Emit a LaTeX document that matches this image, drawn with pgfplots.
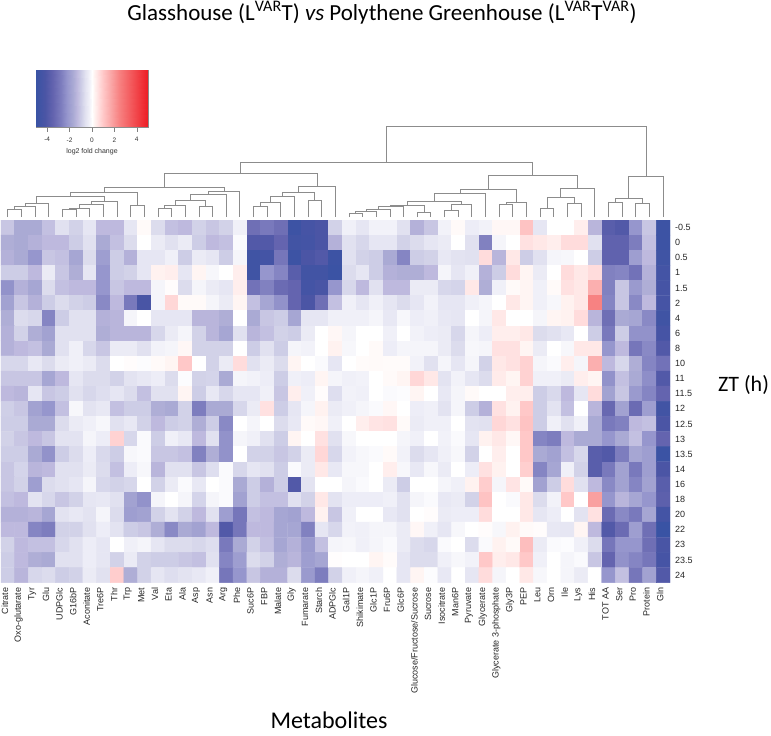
\documentclass[border=0pt]{standalone}
\usepackage{pgfplots}
\pgfplotsset{compat=1.18}
\usepackage{fontspec}
\setmainfont{Liberation Sans}
\newfontfamily\calib{Carlito}
\pgfplotsset{colormap={hm}{
rgb255(0pt)=(57,83,164);
rgb255(80pt)=(75,85,165);
rgb255(150pt)=(100,100,175);
rgb255(220pt)=(125,125,190);
rgb255(280pt)=(150,150,205);
rgb255(330pt)=(170,170,212);
rgb255(370pt)=(190,185,222);
rgb255(400pt)=(205,205,230);
rgb255(440pt)=(225,225,240);
rgb255(470pt)=(240,240,248);
rgb255(500pt)=(255,255,255);
rgb255(520pt)=(255,245,243);
rgb255(550pt)=(255,225,225);
rgb255(600pt)=(255,200,200);
rgb255(660pt)=(250,170,170);
rgb255(740pt)=(247,130,130);
rgb255(1000pt)=(237,28,36)}}
\newcommand{\seg}[5]{\addplot[dend] coordinates {(#1,#2) (#1,#5) (#3,#5) (#3,#4)};}
\begin{document}
\begin{tikzpicture}[x=1pt,y=1pt]
\useasboundingbox (0,0) rectangle (771,736);
% overlay axis in picture pixels: dendrogram and big texts
\begin{axis}[at={(0pt,0pt)},anchor=south west,scale only axis,width=771pt,height=736pt,
  xmin=0,xmax=771,ymin=0,ymax=736,y dir=reverse,hide axis,clip=false,
  dend/.style={draw=black!45,line width=0.7pt,no markers,forget plot}]
\seg{7.8}{217}{21.5}{217}{209.3}
\seg{14.6}{209.3}{35.1}{217}{206.7}
\seg{24.9}{206.7}{48.8}{217}{203.3}
\seg{62.4}{217}{76.1}{217}{209}
\seg{69.2}{209}{89.7}{217}{208}
\seg{79.5}{208}{103.3}{217}{204.3}
\seg{91.4}{204.3}{117}{217}{201.7}
\seg{36.8}{203.3}{104.2}{201.7}{196.7}
\seg{130.6}{217}{144.3}{217}{205.3}
\seg{70.5}{196.7}{137.4}{205.3}{192}
\seg{157.9}{217}{171.6}{217}{208.7}
\seg{164.7}{208.7}{185.2}{217}{205.3}
\seg{198.9}{217}{212.5}{217}{206.3}
\seg{175}{205.3}{205.7}{206.3}{200}
\seg{190.3}{200}{226.2}{217}{194}
\seg{208.3}{194}{239.8}{217}{191.3}
\seg{104}{192}{224}{191.3}{187.7}
\seg{253.5}{217}{267.1}{217}{206}
\seg{260.3}{206}{280.8}{217}{202.7}
\seg{270.5}{202.7}{294.4}{217}{196}
\seg{308}{217}{321.7}{217}{200}
\seg{282.5}{196}{314.8}{200}{192}
\seg{298.7}{192}{335.3}{217}{186.3}
\seg{164}{187.7}{317}{186.3}{173.7}
\seg{349}{217}{362.6}{217}{213}
\seg{355.8}{213}{376.3}{217}{211.7}
\seg{366}{211.7}{389.9}{217}{209.3}
\seg{378}{209.3}{403.6}{217}{206.7}
\seg{417.2}{217}{430.8}{217}{212.3}
\seg{390.8}{206.7}{424}{212.3}{205.3}
\seg{444.5}{217}{458.1}{217}{210.7}
\seg{451.3}{210.7}{471.8}{217}{204.3}
\seg{407.4}{205.3}{461.5}{204.3}{201.3}
\seg{434.5}{201.3}{485.4}{217}{193}
\seg{499.1}{217}{512.7}{217}{204.7}
\seg{505.9}{204.7}{526.4}{217}{202.3}
\seg{460}{193}{516.2}{202.3}{189.3}
\seg{540}{217}{553.7}{217}{208.3}
\seg{567.3}{217}{580.9}{217}{203.3}
\seg{546.9}{208.3}{574.1}{203.3}{197.3}
\seg{560.5}{197.3}{594.6}{217}{188}
\seg{488}{189.3}{577.5}{188}{175.3}
\seg{240.5}{173.7}{532.8}{175.3}{162.7}
\seg{608.2}{217}{621.9}{217}{202}
\seg{635.5}{217}{649.2}{217}{203.3}
\seg{615}{202}{642.4}{203.3}{198.3}
\seg{628.7}{198.3}{663}{217}{176}
\seg{386.7}{162.7}{645.9}{176}{126}
\node[font=\calib\fontsize{23}{25}\selectfont] at (axis cs:382,13) {Glasshouse (L\textsuperscript{VAR}T) \textit{vs} Polythene Greenhouse (L\textsuperscript{VAR}T\textsuperscript{VAR})};
\node[font=\calib\fontsize{24}{26}\selectfont] at (axis cs:329,720) {Metabolites};
\node[font=\calib\fontsize{22}{24}\selectfont] at (axis cs:743.5,385) {ZT (h)};
\end{axis}
% colour key
\begin{axis}[at={(36pt,609pt)},anchor=south west,scale only axis,width=112pt,height=57pt,
  xmin=-5,xmax=5,ymin=0,ymax=1,ytick=\empty,xtick={-4,-2,0,2,4},
  xtick pos=bottom,axis line style={draw=black!45,line width=0.4pt},
  tick style={draw=black!50,line width=0.4pt},major tick length=5pt,tick align=outside,
  /pgf/number format/assume math mode=true,
  tick label style={font=\fontsize{6.5}{7}\selectfont,text=black!80,yshift=-2pt},
  xlabel={log2 fold change},xlabel style={font=\fontsize{7}{8}\selectfont,text=black!80,yshift=1pt},
  colormap name=hm,point meta min=-5,point meta max=5]
\addplot[surf,shader=interp,mesh/rows=2,point meta=x,forget plot] coordinates {
(-5,0)(-4.2,0)(-3.5,0)(-2.8,0)(-2.2,0)(-1.7,0)(-1.3,0)(-1,0)(-0.6,0)(-0.3,0)(0,0)(0.2,0)(0.5,0)(1,0)(1.6,0)(2.4,0)(3.2,0)(4,0)(5,0)

(-5,1)(-4.2,1)(-3.5,1)(-2.8,1)(-2.2,1)(-1.7,1)(-1.3,1)(-1,1)(-0.6,1)(-0.3,1)(0,1)(0.2,1)(0.5,1)(1,1)(1.6,1)(2.4,1)(3.2,1)(4,1)(5,1)
};
\end{axis}
% heat map
\begin{axis}[at={(1pt,153.4pt)},anchor=south west,scale only axis,width=669pt,height=362.6pt,
  xmin=-0.5,xmax=48.5,ymin=-0.5,ymax=23.5,y dir=reverse,
  axis line style={draw=none},tick style={draw=none},major tick length=0pt,
  xtick={0,...,48},ytick={0,...,23},yticklabel pos=right,
  xticklabels={Citrate,Oxo-glutarate,Tyr,Glu,UDPGlc,G16bP,Aconitate,Tre6P,Thr,Trp,Met,Val,Eta,Ala,Asp,Asn,Arg,Phe,Suc6P,FBP,Malate,Gly,Fumarate,Starch,ADPGlc,Gal1P,Shikimate,Glc1P,Fru6P,Glc6P,Glucose/Fructose/Sucrose,Sucrose,Isocitrate,Man6P,Pyruvate,Glycerate,Glycerate 3-phosphate,Gly3P,PEP,Leu,Orn,Ile,Lys,His,TOT AA,Ser,Pro,Protein,Gln},
  yticklabels={-0.5,0,0.5,1,1.5,2,4,6,8,10,11,11.5,12,12.5,13,13.5,14,16,18,20,22,23,23.5,24},
  x tick label style={yshift=-5pt,xshift=-3pt,rotate=90,anchor=east,font=\fontsize{9}{10}\selectfont,text=black!85,inner sep=0pt},
  y tick label style={anchor=west,font=\fontsize{9}{10}\selectfont,text=black!85,inner sep=0pt,xshift=5pt},
  colormap name=hm,point meta min=-5,point meta max=5]
\addplot[matrix plot*,mesh/cols=49,mesh/rows=24,point meta=explicit,forget plot] table[header=false,row sep=\\,x expr={\coordindex-49*floor((\coordindex+0.5)/49)},y expr={floor((\coordindex+0.5)/49)},meta index=0] {
-1.1\\-1.7\\-1.7\\-1.2\\-0.6\\-0.9\\-0.5\\-1.3\\-1.3\\-0.5\\0.1\\-0.7\\-1.2\\-1.3\\-0.9\\-1.1\\-0.9\\-0.3\\-3.2\\-2.9\\-3.2\\-4.8\\-4.4\\-4.2\\-0.9\\-0.3\\-0.5\\-0.25\\-0.25\\-0.6\\-1.5\\-1.1\\-0.25\\0.1\\-0.35\\-0.25\\0.15\\0.15\\1.1\\-0.5\\0\\0\\0.3\\-1.4\\-3.8\\-4\\-2.2\\-1.1\\-4.8\\
-1.6\\-1.7\\-1.5\\-1.3\\-1.3\\-1\\-0.6\\-1.7\\-1.2\\-0.7\\0\\-0.4\\-0.6\\-0.4\\-1\\-1.3\\-1.2\\-0.1\\-4\\-4\\-3.5\\-4.6\\-4.5\\-4.2\\-1.5\\-0.6\\-0.8\\-0.5\\-0.5\\-0.9\\-0.7\\-0.5\\-0.4\\0\\-0.6\\-2.7\\-0.2\\0\\0.5\\0.4\\0.3\\0.6\\0.6\\-0.6\\-3.6\\-3.6\\-2.8\\-1.2\\-4.8\\
-1.5\\-1.7\\-2.2\\-1.1\\-1.2\\-1.8\\-0.7\\-2\\-1\\-1.5\\-0.5\\-0.5\\-0.3\\-1\\-0.4\\-0.5\\-1\\-0.2\\-4.7\\-4.5\\-3\\-4.8\\-4.2\\-4\\-4.8\\-0.6\\-0.9\\-1\\-1.7\\-2.6\\-1\\-0.9\\-0.45\\-0.55\\-0.6\\0.6\\-1.4\\0.4\\-1\\-0.6\\-0.2\\-0.15\\0\\-1\\-3.6\\-3.6\\-2\\-1.3\\-4.7\\
-1\\-1\\-1.3\\-0.4\\-1.1\\-1.6\\-0.5\\-2.2\\-1\\-0.9\\-0.5\\0.25\\0.3\\-0.5\\0.2\\-0.15\\0\\0.3\\-4.7\\-2.2\\-2.6\\-3.8\\-4.6\\-4.6\\-4.9\\-0.7\\-0.5\\-1\\-1.5\\-1.6\\-1.6\\-1.3\\-0.2\\-0.5\\-0.3\\-1.5\\-1\\0.6\\0.2\\-0.4\\0\\0.6\\0.4\\0.6\\-2.7\\-2.6\\-3.1\\-1.5\\-4.5\\
-2.3\\-1.5\\-1.8\\-0.7\\-1.2\\-1.3\\-1.3\\-2.2\\-1.1\\-1.3\\-1.3\\-0.2\\0.05\\-0.7\\-0.2\\-0.4\\-0.5\\0.3\\-3.1\\-2.7\\-3.3\\-3.5\\-4.5\\-4.3\\-2.2\\-0.8\\-1.3\\-0.6\\-1.3\\-1.3\\-0.4\\-0.4\\-0.8\\-0.85\\0.4\\-1.6\\-0.3\\0.1\\0.2\\-0.3\\0.1\\0.5\\0.4\\1.5\\-2.7\\-1.1\\-2.1\\-1.6\\-4.4\\
-1.9\\-1.1\\-1.5\\-1\\-0.7\\-0.9\\-1\\-2.5\\-1.3\\-2.9\\-4.3\\-0.2\\0.7\\0.1\\0.1\\-0.2\\-0.4\\0.2\\-1.2\\-1.8\\-2.3\\-3.5\\-4.2\\-3.2\\-1.2\\-0.3\\-0.5\\-0.3\\-0.5\\-0.7\\-0.5\\-0.25\\-0.5\\-0.5\\-0.3\\-0.2\\0\\0.4\\0.2\\-0.3\\-0.15\\0.25\\0.4\\2.4\\-2.6\\-1.1\\-2.5\\-1.3\\-4.4\\
-1.6\\-0.7\\-0.8\\-2.6\\-1\\-0.6\\-0.6\\-1.5\\-1.4\\-0.2\\0\\-0.5\\-0.5\\-0.5\\-1.4\\-1.4\\-1.6\\0\\-1.7\\-1.1\\-1\\-1.8\\-0.5\\-0.5\\-0.3\\-0.3\\-0.3\\-0.2\\-0.45\\-0.15\\-0.35\\-0.3\\-0.45\\-0.5\\0\\-0.2\\0.4\\0\\0\\-0.2\\0.2\\0.25\\0.6\\-1.4\\-3.2\\-1.7\\-1.8\\-2.5\\-4.7\\
-1.5\\-0.9\\-1.6\\-1.9\\-0.6\\-0.6\\-0.6\\-1.6\\-1.4\\-1.4\\-1.4\\-0.8\\-0.4\\-0.2\\-0.9\\-1.4\\-1.8\\-0.6\\-1.4\\-1.2\\-0.9\\-1\\-0.4\\0\\0.15\\-0.2\\0\\0\\-0.3\\0\\-0.25\\-0.35\\-0.4\\-0.8\\-0.2\\-0.35\\0.3\\0.3\\0.4\\-0.7\\-0.6\\-0.45\\0\\-1\\-2.9\\-1\\-2.3\\-2.3\\-4.4\\
-1.5\\-1.3\\-1.2\\-1.7\\-0.6\\-0.3\\-0.8\\-1.1\\-0.4\\-0.4\\-0.6\\-0.25\\-0.2\\0.15\\-0.9\\-0.9\\-0.9\\0\\-1\\-0.6\\-1\\-0.2\\-0.25\\0\\0.25\\-0.15\\0\\0.1\\-0.35\\-0.2\\-0.2\\-0.2\\-0.4\\-0.7\\-0.15\\-0.2\\0.5\\0.5\\0.2\\-0.4\\0\\-0.15\\0.4\\0.4\\-2.2\\-1.3\\-3\\-2.5\\-4\\
-0.8\\-0.8\\-0.45\\-0.7\\-0.4\\-0.3\\-0.4\\-0.7\\0\\0.05\\-0.05\\0.1\\0.2\\1\\0\\-0.9\\-0.4\\0.6\\-0.6\\-0.4\\-0.7\\0.2\\0\\-0.1\\-0.5\\0\\0.08\\0.1\\0.08\\0.08\\-0.25\\-0.6\\-0.2\\-0.5\\-0.2\\-0.9\\0.4\\0.5\\0.8\\-0.2\\-0.1\\0.3\\-0.2\\1.5\\-1.3\\-0.8\\-1.6\\-2.6\\-3.1\\
-1.1\\-1.1\\-1.1\\-1.8\\-1.3\\-0.5\\-0.7\\-0.7\\-0.9\\-0.55\\-0.45\\-0.35\\-0.7\\-0.05\\-0.9\\-0.85\\-1.7\\-0.2\\-0.25\\-0.35\\-1\\-0.3\\-0.35\\0.2\\-0.2\\-0.3\\-0.25\\0\\0.1\\0.2\\0.7\\0.4\\-0.55\\-0.25\\-0.5\\-0.7\\0.35\\0.2\\0.8\\-0.3\\-0.3\\-0.4\\0.3\\0.2\\-2.3\\-1.2\\-1.7\\-2.4\\-4\\
-1.3\\-1.4\\-0.5\\-1.1\\-1\\-0.6\\-0.8\\-0.65\\-0.5\\-0.7\\-1.2\\-0.6\\-0.6\\0.2\\-1\\-0.45\\-0.8\\-0.5\\-0.5\\-0.3\\-1.1\\0.3\\-0.3\\0.05\\-0.65\\-0.25\\-0.3\\0\\-0.1\\-0.05\\0.2\\0\\-0.45\\-0.2\\0.1\\0\\0\\0.3\\0.3\\-1\\-0.75\\-1.3\\-0.5\\0.6\\-1.9\\-1.1\\-2.1\\-2.6\\-3.5\\
-0.95\\-1.1\\-1.9\\-2.2\\-1.2\\-0.15\\-0.55\\-0.45\\-1.2\\-1\\-1\\-1.6\\-1.7\\-0.9\\-2.8\\-1.7\\-1.7\\-0.8\\-0.4\\0.5\\-1\\-0.5\\-0.2\\0.25\\-0.4\\-0.3\\-0.2\\-0.1\\0.15\\0\\-0.35\\-0.3\\-0.55\\-0.2\\-1\\-1.5\\0.5\\0.25\\1\\-1\\-0.55\\-1.2\\0\\-1.4\\-3.4\\-1.9\\-3.3\\-2\\-4.6\\
-1\\-1\\-1.7\\-1.7\\-0.7\\-0.4\\-0.3\\-0.15\\-0.6\\-0.45\\-0.9\\-1.3\\-1\\-0.9\\-1.6\\-1\\-2.5\\0\\-0.2\\0\\-0.7\\-0.45\\0.1\\0.15\\-0.3\\0\\0.3\\0.45\\0.5\\0.1\\-0.4\\-0.3\\-0.3\\0\\-0.55\\-0.6\\0.7\\0.5\\1.1\\-1\\-0.3\\-0.6\\-0.3\\-1.7\\-2.9\\-2.7\\-1.3\\-1.2\\-4.2\\
-0.9\\-1.1\\-1.3\\-1.1\\-0.55\\-0.55\\-0.2\\-0.35\\0.8\\-0.8\\-0.1\\-1\\-0.3\\-0.45\\-1.3\\-0.6\\-2.3\\-0.2\\-0.3\\-0.6\\-1\\0.2\\0\\0.5\\-0.6\\-0.15\\0\\0\\0\\-0.2\\-0.3\\0\\-0.25\\-0.1\\-0.5\\0.25\\0.4\\0.15\\1\\-2.6\\-2.8\\-1.3\\-1.7\\-1.7\\-2.2\\-1.7\\-1.2\\-2.2\\-3.5\\
-1\\-1\\-1.7\\-2.3\\-1\\-0.7\\-0.35\\-0.75\\-1\\-0.15\\-0.1\\-1.1\\-1.1\\-1.2\\-2.7\\-1.6\\-2.3\\0\\-0.9\\-0.9\\-1.1\\-0.9\\-0.4\\0.7\\-0.8\\-0.25\\-0.15\\-0.1\\0.1\\-0.25\\-0.7\\-0.5\\-0.3\\-0.15\\-0.9\\0\\0.3\\0\\1\\-1.7\\-1.9\\-1.2\\-0.8\\-3.8\\-4\\-2.8\\-1.8\\-2\\-4.9\\
-1.1\\-0.85\\-1.4\\-1.3\\-0.6\\-0.6\\-0.4\\-0.7\\-1.2\\-0.35\\-0.15\\-1.4\\-0.6\\-0.6\\-1.1\\-0.65\\-0.1\\-0.8\\-0.5\\-0.6\\-1\\-0.1\\-0.4\\0.4\\-0.45\\-0.15\\-0.15\\0\\0.3\\-0.15\\-0.45\\-0.15\\-0.4\\0\\-0.35\\0.5\\0.25\\0\\0.85\\-2.6\\-1.8\\-0.3\\-0.9\\-3.8\\-2.9\\-1.9\\-2.9\\-2\\-4.2\\
-1.1\\-0.9\\-2\\-0.7\\-0.6\\-0.5\\-0.2\\-0.8\\-0.9\\-0.8\\0\\-0.9\\-0.4\\-0.1\\-0.45\\0\\-0.1\\-1.7\\-1\\-1.5\\-1\\-4\\-0.55\\0\\0\\-0.2\\-0.1\\0\\-0.4\\-1\\0\\0\\-0.2\\-0.3\\0.25\\0.9\\-0.2\\0.45\\0.1\\-1.9\\-1\\0.6\\-0.6\\-1.3\\-2.5\\-1.9\\-2.6\\-1.9\\-3.8\\
-1.2\\-1.3\\-0.55\\-0.8\\-1.1\\-0.9\\-0.5\\-0.45\\-0.6\\-1.9\\-2.3\\-0.2\\0\\-0.2\\-0.85\\-0.2\\-0.1\\-1.9\\-1\\-1.2\\-1.2\\-0.6\\-0.9\\0.4\\-0.55\\-0.35\\-0.35\\-0.35\\-0.3\\-0.6\\-0.2\\-0.1\\-0.45\\-0.4\\-0.9\\1.1\\0\\-0.1\\0.4\\-0.7\\-0.25\\1\\0\\1.8\\-2.2\\-1.4\\-1.8\\-2.2\\-3.7\\
-1.5\\-1.5\\-1.4\\-1.8\\-0.55\\-0.45\\-0.55\\-0.2\\-0.7\\-2\\-1.9\\-0.9\\-0.55\\-0.9\\-1.3\\-0.6\\-2\\-3\\-1.2\\-1.3\\-1.8\\-1.9\\-1.3\\0.25\\-1.1\\-0.3\\0\\0\\-0.45\\-0.6\\0\\0.05\\-0.4\\-0.35\\-0.35\\0.6\\0\\0\\0.4\\-0.5\\-0.35\\0\\-0.55\\0.5\\-3.3\\-2.5\\-2.9\\-1.8\\-4.5\\
-1.3\\-1.3\\-2.6\\-2.8\\-0.9\\-0.9\\-0.6\\-0.35\\-0.55\\-1\\-1.1\\-1.6\\-2.5\\-1.7\\-1.9\\-1.3\\-4\\-3\\-1.3\\-1.3\\-1.8\\-1.8\\-2.7\\-0.5\\-0.8\\-0.25\\-0.3\\-0.2\\-0.2\\-0.4\\0.15\\-0.3\\-0.5\\-0.15\\0\\0.05\\-0.15\\0.25\\0.1\\0.05\\-0.45\\-0.5\\0.2\\-1.3\\-4\\-3.3\\-2\\-3.2\\-5\\
-0.9\\-1.3\\-1.2\\-1.2\\-0.8\\-0.6\\-0.35\\-0.5\\0\\-0.3\\-0.2\\-0.5\\-0.7\\-0.7\\-0.8\\-0.65\\-2.9\\-1.7\\-0.9\\-1.2\\-1.8\\-1.5\\-2.1\\-1.2\\-0.2\\-0.15\\-0.3\\-0.2\\-0.1\\-0.4\\-0.7\\-0.8\\-0.1\\0\\-0.7\\-0.1\\0.25\\0.1\\1.2\\-0.4\\-0.1\\-0.05\\-0.3\\-0.7\\-3\\-2.2\\-2.2\\-3.2\\-4.3\\
-1\\-1.3\\-1.6\\-1.7\\-0.6\\-0.6\\-0.35\\-0.5\\-0.9\\-0.4\\-0.9\\-1\\-1\\-1.1\\-1.2\\-0.6\\-2.6\\-2\\-0.7\\-0.9\\-1.6\\-1.4\\-2\\-1.8\\0.03\\0\\0\\0.2\\0.08\\-0.5\\-0.7\\-0.7\\-0.3\\-0.15\\-0.25\\1\\0.3\\0.4\\1\\-0.3\\0\\-0.2\\-0.1\\-1.1\\-3.5\\-2.3\\-2.6\\-3\\-4.4\\
-1\\-1.4\\-0.8\\-0.7\\-1\\-0.9\\-0.4\\-0.6\\0.9\\-1.6\\-0.9\\-0.5\\-0.65\\-0.55\\-0.45\\-0.3\\-3\\-2.2\\-1.1\\-1.5\\-1.5\\-0.7\\-2.1\\-2.8\\-0.9\\-0.3\\-0.2\\-0.3\\0\\-0.5\\0.2\\-0.05\\-0.45\\0\\-0.5\\0.6\\-0.2\\0\\0.4\\-0.15\\0\\-0.2\\-0.4\\0\\-2.2\\-1.2\\-3\\-1.9\\-4\\
};
\end{axis}
\end{tikzpicture}
\end{document}
